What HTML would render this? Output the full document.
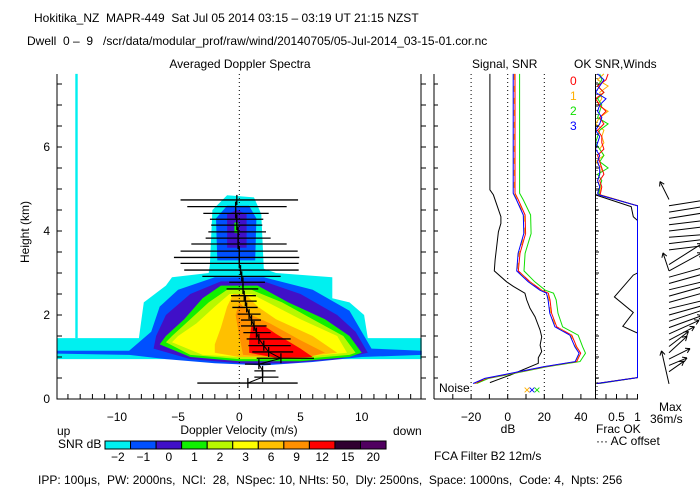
<!DOCTYPE html>
<html><head><meta charset="utf-8"><style>
html,body{margin:0;padding:0;background:#fff;width:700px;height:500px;overflow:hidden}
svg{display:block}
text{font-family:"Liberation Sans",sans-serif;font-size:12px;white-space:pre}
</style></head><body>
<svg id="chart" width="700" height="500" viewBox="0 0 700 500">
<rect x="0" y="0" width="700" height="500" fill="#fff"/>
<text x="34" y="22" font-size="12">Hokitika_NZ  MAPR-449  Sat Jul 05 2014 03:15 – 03:19 UT 21:15 NZST</text>
<text x="27" y="45" font-size="11.5">Dwell  0 –  9   /scr/data/modular_prof/raw/wind/20140705/05-Jul-2014_03-15-01.cor.nc</text>
<text x="240" y="68" text-anchor="middle">Averaged Doppler Spectra</text>
<text x="472" y="68">Signal, SNR</text>
<text x="574" y="68">OK SNR,Winds</text>
<g id="spec"></g>
<g id="sig"></g>
<g id="ok"></g>
<text x="29" y="232" transform="rotate(-90 29 232)" text-anchor="middle" font-size="11">Height (km)</text>
<text x="239" y="434" text-anchor="middle" font-size="11">Doppler Velocity (m/s)</text>
<text x="57" y="435" font-size="11">up</text>
<text x="393" y="435" font-size="11">down</text>
<text x="58" y="448" font-size="11">SNR dB</text>
<g id="cbar"></g>
<text x="434" y="460" font-size="11">FCA Filter B2 12m/s</text>
<text x="508" y="433" text-anchor="middle" font-size="11">dB</text>
<text x="596" y="433" font-size="11">Frac OK</text>
<text x="596" y="445" font-size="11">··· AC offset</text>
<text x="659" y="411" font-size="11">Max</text>
<text x="650" y="423" font-size="11">36m/s</text>
<text x="439" y="392" font-size="11">Noise</text>
<text x="38" y="484" font-size="11">IPP: 100μs,  PW: 2000ns,  NCI:  28,  NSpec: 10, NHts: 50,  Dly: 2500ns,  Space: 1000ns,  Code: 4,  Npts: 256</text>
</svg>
<script>
// ---- data ----
const levelLabels=['-2','-1','0','1','2','3','6','9','12','15','20'];
const levelColors=['#00f0f0','#0050ff','#4010c8','#10f000','#b8f800','#ffff00','#ffc000','#ff9000','#ff0000','#300030','#500060'];
const contourCyan=[[-14.9,0.95],[14.9,0.95],[14.9,1.45],[10.5,1.45],[10.2,2.0],[9,2.3],[7.6,2.4],[7.6,2.9],[3,3.0],[2,3.1],[1.8,4.4],[1.2,4.8],[-1,4.85],[-2.2,4.5],[-2.4,3.2],[-2.5,3.0],[-5.5,2.9],[-6,2.7],[-7.8,2.3],[-8.2,1.45],[-14.9,1.45]];
const contourSpike=[[-13.4,1.45],[-13.2,1.45],[-13.2,7.74],[-13.4,7.74]];
const contourBlue=[[-14.9,1.08],[-9,1.05],[-6,0.95],[-2,0.85],[2,0.8],[6,0.88],[10,1.0],[14.9,1.05],[14.9,1.15],[10.8,1.2],[10,1.6],[9,2.1],[6,2.6],[2,2.9],[-2,2.9],[-5,2.6],[-6.5,2.2],[-7.2,1.6],[-9,1.15],[-14.9,1.15]];
const contourBlueUpper=[[-1.8,3.3],[1.3,3.3],[1.4,4.3],[0.8,4.6],[-1,4.6],[-1.9,4.3]];
const contourPurple=[[-7,1.2],[-4,0.95],[0,0.85],[4,0.85],[8,0.95],[10.5,1.1],[9.5,1.6],[8,2.0],[5,2.5],[2,2.8],[-1.5,2.8],[-4,2.5],[-6,2.0],[-6.8,1.5]];
const contourPurpleUpper=[[-1.0,3.6],[0.6,3.6],[0.6,4.4],[-0.2,4.5],[-1.0,4.4]];
const contourGreen=[[-6.5,1.3],[-4,1.0],[0,0.9],[5,0.9],[9,1.0],[10,1.1],[9,1.5],[7,1.9],[4,2.3],[1.5,2.7],[-1.5,2.7],[-3,2.4],[-4.5,1.9],[-6,1.5]];
const contourGreenUpper=[[-0.4,3.95],[-0.1,3.95],[-0.1,4.2],[-0.4,4.2]];
const contourLime=[[-6,1.35],[-4,1.05],[0,0.95],[5,0.95],[9,1.05],[9.5,1.1],[8.5,1.5],[6,1.9],[3.5,2.3],[1,2.6],[-1,2.6],[-2.5,2.3],[-4,1.9],[-5.5,1.5]];
const contourYellow=[[-5.5,1.35],[-3,1.05],[0,1.0],[5,1.0],[8.8,1.1],[8,1.5],[5,1.9],[3,2.2],[1,2.5],[-0.8,2.5],[-2,2.2],[-3.5,1.8],[-5,1.5]];
const contourAmber=[[-2,1.1],[0,1.0],[5,1.0],[8,1.1],[6,1.5],[3,1.9],[1.5,2.2],[0.5,2.5],[-0.5,2.5],[-1,2.2],[-1.5,1.7],[-2,1.3]];
const contourOrange=[[0.3,1.05],[5,0.95],[7,1.1],[5,1.4],[2.5,1.8],[1,2.0],[0,2.3],[-0.3,2.0],[0,1.5]];
const contourRed=[[0.8,1.1],[3,0.98],[6,1.0],[5,1.2],[3,1.55],[2,1.75],[1,1.75],[0.8,1.4]];
const barHeights=[4.74,4.58,4.42,4.28,4.14,3.98,3.83,3.69,3.52,3.37,3.23,3.07,2.92,2.78,2.62,2.46,2.33,2.18,2.02,1.88,1.74,1.58,1.43,1.27,1.12,0.97,0.83,0.67,0.52,0.38];
const barLo=[-4.8,-4.25,-2.94,-2.4,-2.3,-2.53,-2.75,-3.92,-4.8,-5.34,-4.8,-4.5,-3.02,-0.82,-1.04,-0.68,-0.68,-0.57,-0.14,0.14,0.14,0.33,0.6,0.74,1.06,1.42,0.46,1.23,1.23,-3.43];
const barHi=[4.8,3.87,2.4,1.96,1.88,2.18,2.56,3.87,4.77,4.9,4.85,4.85,3.38,2.1,1.55,1.36,1.42,1.5,1.74,1.77,2.23,2.56,4.2,4.2,4.4,6.1,2.56,2.97,3.2,4.77];
const barMid=[-0.2,-0.3,-0.3,-0.2,-0.2,-0.1,-0.1,-0.1,0,0,0,0.1,0.2,0.3,0.3,0.4,0.5,0.6,0.8,1.0,1.2,1.4,1.6,2.0,2.4,3.4,1.6,1.9,1.9,0.7];
const sigHeights=[7.74,4.90,4.74,4.38,3.94,3.47,3.05,2.79,2.59,2.52,2.36,2.04,1.72,1.52,1.24,1.09,0.89,0.77,0.60,0.49,0.37];
const snrRed=[4.0,4.0,5.8,9.5,9.8,6.7,5.8,12.2,18.6,22.2,23.1,24.0,26.8,35.0,37.7,39.9,37.7,20.4,1.3,-11.5,-17.9];
const snrOrange=[3.5,3.5,5.3,9.0,9.3,6.2,5.3,11.7,18.1,21.7,22.6,23.5,26.3,34.5,37.2,39.4,37.2,19.9,0.8,-12,-18.4];
const snrGreen=[6.5,6.5,8.5,12.5,12.8,9.5,8.9,14.8,20.5,25.0,26.5,27.5,30.0,38.5,41.0,42.5,39.5,21.5,2.5,-10.5,-17.0];
const snrBlue=[3.0,3.0,4.8,8.5,8.8,5.7,4.9,11.2,17.6,21.2,22.1,23.0,25.8,34.0,36.7,39.0,36.9,19.5,0.5,-12.5,-18.9];
const noiseHeights=[7.74,4.98,4.86,4.34,4.18,3.98,3.31,3.05,2.79,2.68,2.52,2.36,2.16,1.96,1.64,1.48,1.28,1.13,0.98,0.85,0.57,0.39];
const noiseDb=[-9.7,-9.7,-7.8,-3.7,-3.7,-5.1,-6.9,-7.3,-0.6,3.1,9.4,10.4,12.2,14.9,17.7,18.6,17.7,18.6,16.7,16.7,1.3,-9.7];
const okHeights=[7.74,7.6,7.45,7.3,7.15,7.0,6.85,6.7,6.55,6.4,6.25,6.1,5.95,5.8,5.65,5.5,5.35,5.2,5.05,4.9,4.86,4.6,0.51,0.37];
const okRed=[0.3,0.25,0.05,0.2,0.0,0.1,0.25,0.1,0.2,0.05,0.15,0.15,0.2,0.05,0.1,0.15,0.2,0.1,0.15,0.12,0.1,1,1,0.05];
const okOrange=[0.2,0.05,0.3,0.1,0.15,0.05,0.3,0.1,0.0,0.2,0.15,0.2,0.1,0.2,0.0,0.15,0.1,0.05,0.12,0.1,0.12,1,1,0.07];
const okGreen=[0.1,0.15,0.05,0.2,0.05,0.15,0.1,0.05,0.3,0.1,0.05,0.0,0.1,0.2,0.1,0.3,0.05,0.15,0.1,0.08,0.1,1,1,0.1];
const okBlue=[0.05,0.2,0.1,0.0,0.25,0.1,0.05,0.15,0.1,0.0,0.1,0.05,0.0,0.1,0.05,0.1,0.1,0.05,0.1,0.05,0.08,1,1,0.04];
const blackFracHeights=[4.86,4.58,4.34,4.25,3.0,2.95,2.43,2.06,1.73,1.57,1.3,1.25,0.51,0.37];
const blackFrac=[0.0,0.85,0.9,1,1,0.9,0.45,0.9,0.65,1,1,1,1,0.02];
const windHeights=[4.75,4.6,4.45,4.3,4.15,4.0,3.85,3.7,3.55,3.05,3.2,3.05,2.9,2.75,2.6,2.45,2.3,2.15,2.0,1.85,1.7,1.55,1.4,1.25,1.1,0.95,0.8,0.65,0.36];
const windU=[-6,25,25,25,25,25,25,25,25,-4,22,22,25,25,25,25,25,25,25,24,22,20,17,13,12,14,12,10,-5];
const windV=[12,4,4,4,3,3,2,3,3,12,14,12,7,7,6,7,7,6,7,8,8,9,9,10,11,7,5,7,22];
const velTicks=[-10,-5,0,5,10];
const hTicks=[0,2,4,6];
const dbTicks=[-20,0,20,40];
// ---- axes ----
const NS='http://www.w3.org/2000/svg';
const Y0=399, KM=42;
const yH=h=>Y0-h*KM;
const xV=v=>239.3+v*12.24;
const xDb=d=>507.7+d*1.83;
const xF=f=>595.5+f*42;
function mk(parent,tag,attrs){const e=document.createElementNS(NS,tag);for(const k in attrs)e.setAttribute(k,attrs[k]);parent.appendChild(e);return e;}
const spec=document.getElementById('spec'),sig=document.getElementById('sig'),ok=document.getElementById('ok'),cbar=document.getElementById('cbar');
function poly(parent,pts,fx,color,name){
  const e=mk(parent,'polygon',{points:pts.map(p=>fx(p[0]).toFixed(1)+','+yH(p[1]).toFixed(1)).join(' '),fill:color});
  
  
}
function line(parent,xs,hs,color,name,w){
  const e=mk(parent,'polyline',{points:xs.map((x,i)=>x.toFixed(1)+','+yH(hs[i]).toFixed(1)).join(' '),fill:'none',stroke:color,'stroke-width':w||1});
  
  
  return e;
}
const contours=[[contourCyan,0],[contourSpike,0],[contourBlue,1],[contourBlueUpper,1],[contourPurple,2],[contourPurpleUpper,2],[contourGreen,3],[contourGreenUpper,3],[contourLime,4],[contourYellow,5],[contourAmber,6],[contourOrange,7],[contourRed,8]];
contours.forEach(c=>poly(spec,c[0],xV,levelColors[c[1]],'spectra-contour'));
let zl=mk(spec,'line',{x1:xV(0),x2:xV(0),y1:74,y2:Y0,stroke:'#000','stroke-dasharray':'1,3'});


barHeights.forEach((h,i)=>{
  const e=mk(spec,'line',{x1:xV(barLo[i]),x2:xV(barHi[i]),y1:yH(h),y2:yH(h),stroke:'#000','stroke-width':1.3});
  
  
  const t=mk(spec,'line',{x1:xV(barMid[i]),x2:xV(barMid[i]),y1:yH(h)-5,y2:yH(h)+5,stroke:'#000','stroke-width':1.3});
  
  
});
line(spec,barMid.map(xV),barHeights,'#000','mean-velocity-line',1);
let fr=mk(spec,'path',{d:'M57,74V'+Y0+'H421V74',fill:'none',stroke:'#000'});


for(let v=-14;v<=14;v++){mk(spec,'line',{x1:xV(v),x2:xV(v),y1:Y0,y2:Y0-5,stroke:'#000'});}
for(let h=0;h<=7.5;h+=0.5){mk(spec,'line',{x1:57,x2:62,y1:yH(h),y2:yH(h),stroke:'#000'});mk(spec,'line',{x1:421,x2:426,y1:yH(h),y2:yH(h),stroke:'#000'});}
velTicks.forEach(v=>{const t=mk(spec,'text',{x:xV(v),y:421,'text-anchor':'middle','font-size':11});t.textContent=v<0?'−'+(-v):v;
  
  });
hTicks.forEach(h=>{const t=mk(spec,'text',{x:50,y:yH(h)+4,'text-anchor':'end','font-size':11});t.textContent=h;
  
  });
[-20,0,20].forEach(d=>{const e=mk(sig,'line',{x1:xDb(d),x2:xDb(d),y1:74,y2:Y0,stroke:'#000','stroke-dasharray':'1,3'});
  
  });
line(sig,noiseDb.map(xDb),noiseHeights,'#000','noise-line');
line(sig,snrGreen.map(xDb),sigHeights,'#10e000','snr-line-2');
line(sig,snrRed.map(xDb),sigHeights,'#ff0000','snr-line-0');
line(sig,snrOrange.map(xDb),sigHeights,'#ffb000','snr-line-1').setAttribute('stroke-dasharray','6,6');
line(sig,snrBlue.map(xDb),sigHeights,'#0000ff','snr-line-3');
let sl=mk(sig,'line',{x1:434,x2:434,y1:74,y2:Y0,stroke:'#000'});


mk(sig,'line',{x1:434,x2:596,y1:Y0,y2:Y0,stroke:'#000'});
for(let h=0;h<=7.5;h+=0.5)mk(sig,'line',{x1:434,x2:438,y1:yH(h),y2:yH(h),stroke:'#000'});
for(let d=-30;d<=40;d+=10)mk(sig,'line',{x1:xDb(d),x2:xDb(d),y1:Y0,y2:Y0-5,stroke:'#000'});
dbTicks.forEach(d=>{const t=mk(sig,'text',{x:xDb(d),y:421,'text-anchor':'middle','font-size':11});t.textContent=d<0?'−'+(-d):d;
  
  });
['#ff0000','#ffb000','#10e000','#0000ff'].forEach((c,i)=>{const t=mk(sig,'text',{x:570,y:85+i*15,style:'fill:'+c,'font-size':11});t.textContent=i;
  
  });
[['#ffb000',527],['#0000ff',532],['#10e000',537]].forEach(c=>{const t=mk(sig,'text',{x:c[1],y:394,style:'fill:'+c[0],'font-size':14,'text-anchor':'middle'});t.textContent='×';
  
  });
let acl=mk(ok,'line',{x1:597,x2:597,y1:74,y2:Y0,stroke:'#000','stroke-dasharray':'1,3'});


line(ok,blackFrac.map(xF),blackFracHeights,'#000','frac-ok-total');
line(ok,okOrange.map(xF),okHeights,'#ffb000','frac-ok-1');
line(ok,okGreen.map(xF),okHeights,'#10e000','frac-ok-2');
line(ok,okRed.map(xF),okHeights,'#ff0000','frac-ok-0');
line(ok,okBlue.map(xF),okHeights,'#0000ff','frac-ok-3');
mk(ok,'line',{x1:595.5,x2:595.5,y1:74,y2:Y0,stroke:'#000'});
mk(ok,'line',{x1:595.5,x2:638,y1:Y0,y2:Y0,stroke:'#000'});
for(let h=0;h<=7.5;h+=0.5)mk(ok,'line',{x1:595.5,x2:599,y1:yH(h),y2:yH(h),stroke:'#000'});
for(let f=0.25;f<=1;f+=0.25)mk(ok,'line',{x1:xF(f),x2:xF(f),y1:Y0,y2:Y0-5,stroke:'#000'});
[[0.5,'0.5'],[1,'1']].forEach(p=>{const t=mk(ok,'text',{x:xF(p[0]),y:421,'text-anchor':'middle','font-size':11});t.textContent=p[1];
  
  });
const WS=1.5, WX=669;
windHeights.forEach((h,i)=>{
  const x1=WX,y1=yH(h),x2=WX+windU[i]*WS,y2=y1-windV[i]*WS;
  const g=mk(ok,'g',{});
  
  
  mk(g,'line',{x1,y1,x2,y2,stroke:'#000'});
  const a=Math.atan2(y2-y1,x2-x1);
  [2.6,-2.6].forEach(d=>mk(g,'line',{x1:x2,y1:y2,x2:x2+5*Math.cos(a+d),y2:y2+5*Math.sin(a+d),stroke:'#000'}));
});
levelLabels.forEach((lab,i)=>{
  const x=105+i*25.55;
  const r=mk(cbar,'rect',{x,y:441,width:25.55,height:8,fill:levelColors[i],stroke:'#000'});
  
  
  const t=mk(cbar,'text',{x:x+12.8,y:461,'text-anchor':'middle','font-size':11});
  t.textContent=lab.replace('-','−');
  
  
});
</script>
</body></html>
